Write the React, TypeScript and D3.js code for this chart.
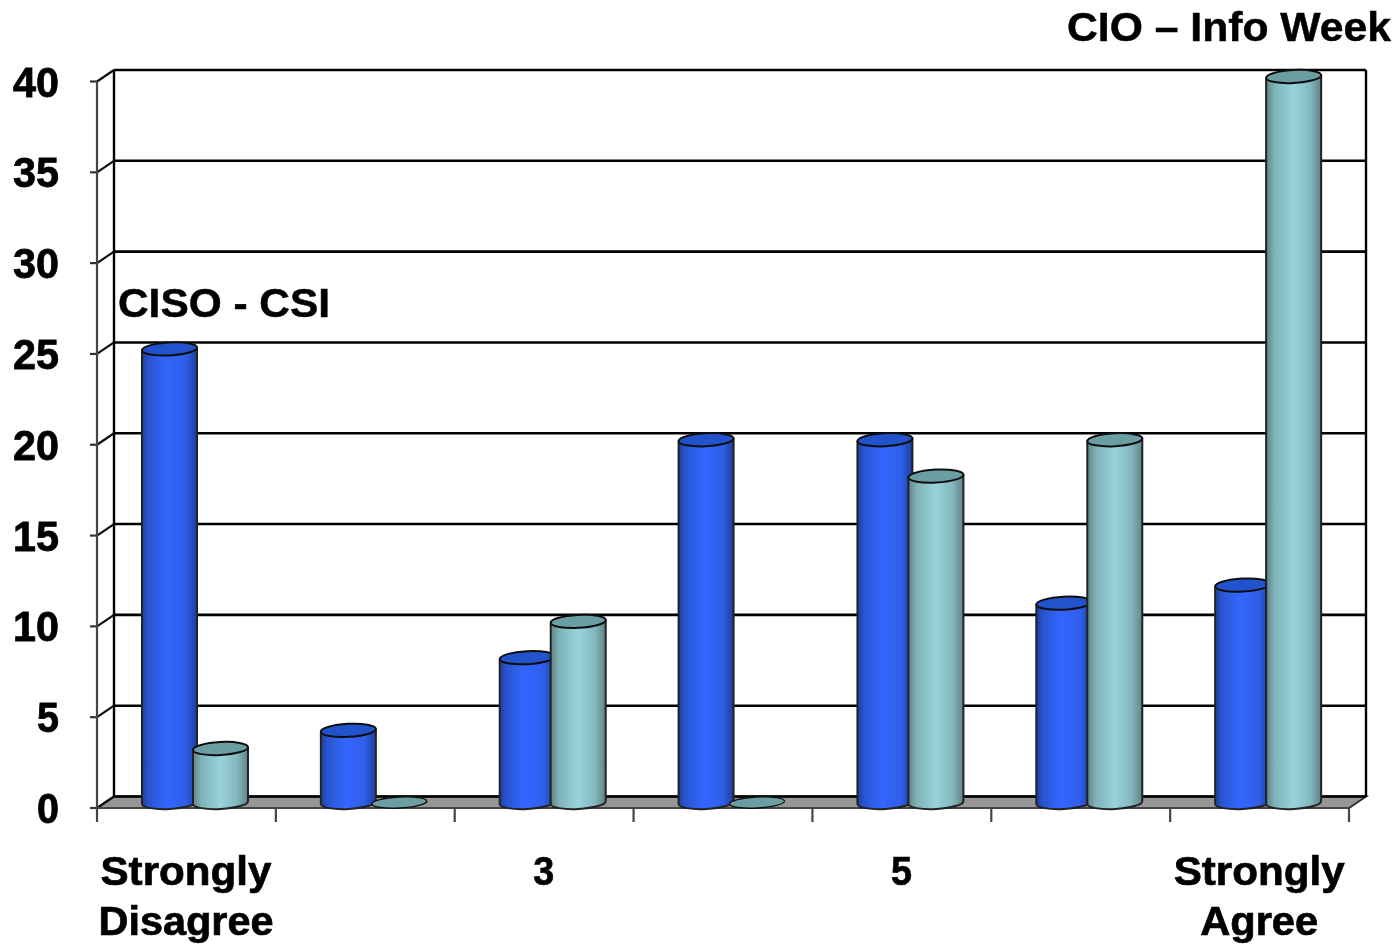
import React from "react";
import * as d3 from "d3";

const categories = ["1", "2", "3", "4", "5", "6", "7"];
const cisoCsi = [25, 4, 8, 20, 20, 11, 12];
const cioInfoWeek = [3, 0, 10, 0, 18, 20, 40];
const yTicks = [0, 5, 10, 15, 20, 25, 30, 35, 40];
const xLabels = [
  { i: 0, lines: [["Strongly", 171], ["Disagree", 175]] },
  { i: 2, lines: [["3", 21]] },
  { i: 4, lines: [["5", 21]] },
  { i: 6, lines: [["Strongly", 171], ["Agree", 118]] },
] as { i: number; lines: [string, number][] }[];

const W = 1399, H = 946;
const depthX = 17, depthY = 11.5;
const x = d3.scaleBand<string>().domain(categories).range([97, 1349]);
const y = d3.scaleLinear().domain([0, 40]).range([808, 81.5]);
const cylY = (v: number) => y(v) - 5;
const barW = 55, offA = 45, offB = 96, ry = 6.5;
const font = "'Liberation Sans', Arial, sans-serif";

function Cylinder({ cx, v, grad, top }: { cx: number; v: number; grad: string; top: string }) {
  const rx = barW / 2;
  const yt = cylY(v), yb = cylY(0) - 0.5;
  const rot = -3;
  if (v === 0) {
    return <ellipse cx={cx} cy={yb} rx={rx} ry={ry - 1} fill={top} stroke="#111" strokeWidth={1.4} transform={`rotate(${rot} ${cx} ${yb})`} />;
  }
  const dy = rx * Math.tan((rot * Math.PI) / 180);
  const body = `M${cx - rx},${yt - dy} L${cx - rx},${yb - dy} A${rx},${ry} ${rot} 0 0 ${cx + rx},${yb + dy} L${cx + rx},${yt + dy} Z`;
  return (
    <g>
      <path d={body} fill={`url(#${grad})`} stroke="#222" strokeWidth={2} strokeLinejoin="round" />
      <ellipse cx={cx} cy={yt} rx={rx} ry={ry} fill={top} stroke="#111" strokeWidth={2} transform={`rotate(${rot} ${cx} ${yt})`} />
    </g>
  );
}

export default function App() {
  const left = x.range()[0], right = x.range()[1];
  const edges = [...categories.map((c) => x(c) as number), right];
  return (
    <svg width={W} height={H} viewBox={`0 0 ${W} ${H}`} style={{ position: "absolute", left: 0, top: 0, background: "#fff" }} fontFamily={font}>
      <defs>
        <linearGradient id="gBlue" x1="0" x2="1" y1="0" y2="0">
          <stop offset="0" stopColor="#1d3f9c" />
          <stop offset="0.12" stopColor="#2a55cf" />
          <stop offset="0.45" stopColor="#3366ff" />
          <stop offset="0.8" stopColor="#2f5ee8" />
          <stop offset="1" stopColor="#1d3f9c" />
        </linearGradient>
        <linearGradient id="gTeal" x1="0" x2="1" y1="0" y2="0">
          <stop offset="0" stopColor="#5e8487" />
          <stop offset="0.15" stopColor="#7fb2b7" />
          <stop offset="0.5" stopColor="#99d3dc" />
          <stop offset="0.8" stopColor="#84b8be" />
          <stop offset="1" stopColor="#5e8487" />
        </linearGradient>
        <filter id="soft" x="-2%" y="-2%" width="104%" height="104%">
          <feGaussianBlur stdDeviation="0.6" />
        </filter>
      </defs>
      <g filter="url(#soft)">
        <polygon
          points={`${left},${y(0)} ${left + depthX},${y(0) - depthY} ${right + depthX},${y(0) - depthY} ${right},${y(0)}`}
          fill="#969696" stroke="#333" strokeWidth={2}
        />
        {yTicks.map((t) => (
          <g key={t}>
            <line x1={left + depthX} x2={right + depthX} y1={y(t) - depthY} y2={y(t) - depthY} stroke="#000" strokeWidth={2.6} />
            <line x1={left} x2={left + depthX} y1={y(t)} y2={y(t) - depthY} stroke="#111" strokeWidth={2.2} />
            <line x1={left - 7} x2={left} y1={y(t)} y2={y(t)} stroke="#333" strokeWidth={2.2} />
            <text x={59} y={y(t) + 15} textAnchor="end" fontSize={42} fontWeight={700} fill="#000" stroke="#000" strokeWidth={0.8}
              textLength={t < 10 ? 22 : 46} lengthAdjust="spacingAndGlyphs">{t}</text>
          </g>
        ))}
        <line x1={left} x2={left} y1={y(40)} y2={y(0)} stroke="#444" strokeWidth={2.2} />
        <line x1={left + depthX} x2={left + depthX} y1={y(40) - depthY} y2={y(0) - depthY} stroke="#000" strokeWidth={2.4} />
        <line x1={right + depthX} x2={right + depthX} y1={y(40) - depthY} y2={y(0) - depthY} stroke="#000" strokeWidth={2.4} />
        <line x1={left} x2={right} y1={y(0)} y2={y(0)} stroke="#444" strokeWidth={2.2} />
        {edges.map((e, i) => (
          <line key={i} x1={e} x2={e} y1={y(0)} y2={y(0) + 14} stroke="#444" strokeWidth={2.2} />
        ))}
        {categories.map((c, i) => (
          <Cylinder key={c} cx={(x(c) as number) + offA + barW / 2} v={cisoCsi[i]} grad="gBlue" top="#2352cc" />
        ))}
        {categories.map((c, i) => (
          <Cylinder key={c} cx={(x(c) as number) + offB + barW / 2} v={cioInfoWeek[i]} grad="gTeal" top="#6a9ea3" />
        ))}
        {xLabels.map((l) =>
          l.lines.map(([s, w], j) => (
            <text key={s + j} x={(x(categories[l.i]) as number) + 89} y={885 + j * 50} textAnchor="middle" fontSize={41} fontWeight={700} fill="#000" stroke="#000" strokeWidth={0.7}
              textLength={w} lengthAdjust="spacingAndGlyphs">{s}</text>
          ))
        )}
        <text x={118} y={317} fontSize={41} fontWeight={700} fill="#000" stroke="#000" strokeWidth={0.5} textLength={212} lengthAdjust="spacingAndGlyphs">CISO - CSI</text>
        <text x={1067} y={41} fontSize={41} fontWeight={700} fill="#000" stroke="#000" strokeWidth={0.5} textLength={324} lengthAdjust="spacingAndGlyphs">CIO – Info Week</text>
      </g>
    </svg>
  );
}
